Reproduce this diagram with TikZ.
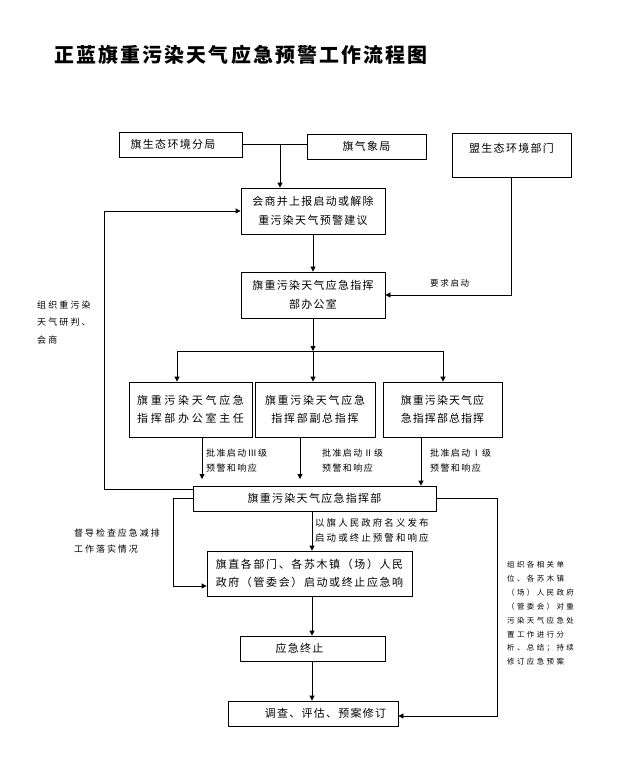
\documentclass[tikz,border=0pt]{standalone}
\usepackage{fontspec}
\setmainfont{Noto Sans CJK SC}
\usetikzlibrary{arrows.meta}
\newcommand\lsp[1]{\addfontfeature{LetterSpace=#1}}
\tikzset{
  box/.style={draw, line width=0.8bp, inner sep=0pt, align=center,
    font={\fontsize{11}{18.5}\selectfont\lsp{12}}},
  lab/.style={inner sep=0pt, align=left, anchor=west,
    font={\fontsize{9}{15}\selectfont\lsp{16}}},
  arr/.style={-{Triangle[length=5bp,width=5bp]}, line width=0.8bp},
  ln/.style={line width=0.8bp}
}
\begin{document}
\begin{tikzpicture}[x=1bp,y=-1bp]
\useasboundingbox (0,0) rectangle (618,767);
% title
\node[font={\bfseries\fontsize{20}{20}\selectfont\lsp{11}}] (T) at (241,55) {正蓝旗重污染天气应急预警工作流程图};
% boxes
\node[box, minimum width=123bp, minimum height=25bp] (A) at (180.5,144.5) {旗生态环境分局\hspace*{15bp}};
\node[box, minimum width=119bp, minimum height=25bp] (B) at (366.5,146.5) {旗气象局};
\node[box, minimum width=119bp, text height=9bp, text depth=15bp, inner ysep=10bp] (C) at (511.5,155) {盟生态环境部门};
\node[box, minimum width=144bp, minimum height=46bp] (D) at (313,211) {会商并上报启动或解除\\重污染天气预警建议};
\node[box, minimum width=144bp, minimum height=46bp] (E) at (313,295) {旗重污染天气应急指挥\\部办公室};
\node[box, minimum width=123bp, minimum height=55bp, font={\fontsize{11}{18.5}\selectfont\lsp{25}}] (F1) at (190.5,409.5) {旗重污染天气应急\\指挥部办公室主任};
\node[box, minimum width=120bp, minimum height=55bp, font={\fontsize{11}{18.5}\selectfont\lsp{16}}] (F2) at (315,409.5) {旗重污染天气应急\\指挥部副总指挥};
\node[box, minimum width=119bp, minimum height=55bp, font={\fontsize{11}{18.5}\selectfont\lsp{10}}] (F3) at (442.5,409.5) {旗重污染天气应\\急指挥部总指挥};
\node[box, minimum width=243bp, minimum height=25bp] (G) at (314.5,498.5) {旗重污染天气应急指挥部};
\node[box, minimum width=205bp, minimum height=45bp, font={\fontsize{11}{18.5}\selectfont\lsp{15}}] (H) at (309.5,573.5) {旗直各部门、各苏木镇（场）人民\\政府（管委会）启动或终止应急响};
\node[box, minimum width=145bp, minimum height=25bp] (I) at (312.5,648.5) {应急终止\hspace*{26bp}};
\node[box, minimum width=170bp, minimum height=25bp] (J) at (313,713.5) {\hspace*{25bp}调查、评估、预案修订};
% labels
\node[lab, font={\fontsize{8.5}{15}\selectfont\lsp{20}}] (req) at (430,283) {要求启动};
\node[lab, font={\fontsize{9}{17.5}\selectfont\lsp{24}}] (Lleft) at (37,322.5) {组织重污染\\天气研判、\\会商};
\node[lab] (L3) at (206,460.5) {批准启动Ⅲ级\\预警和响应};
\node[lab] (L2) at (322,460.5) {批准启动Ⅱ级\\预警和响应};
\node[lab] (L1) at (430,460.5) {批准启动Ⅰ级\\预警和响应};
\node[lab, font={\fontsize{9.5}{15}\selectfont\lsp{22}}] (Lpub) at (315,530.5) {以旗人民政府名义发布\\启动或终止预警和响应};
\node[lab, font={\fontsize{9}{16}\selectfont\lsp{22}}] (Lsup) at (74,541) {督导检查应急减排\\工作落实情况};
\node[lab, font={\fontsize{7.5}{13.9}\selectfont\lsp{32}}] (Lright) at (507,613.5) {组织各相关单\\位、各苏木镇\\（场）人民政府\\（管委会）对重\\污染天气应急处\\置工作进行分\\析、总结；持续\\修订应急预案};
% connectors
\coordinate (m) at (280,144.5);
\draw[ln] (A.east) -- (A.east -| B.west);
\draw[arr] (m) -- (m |- D.north);
\draw[arr] (C.south) |- (E.east);
\draw[arr] (D) -- (E);
\coordinate (bar) at (313,351);
\coordinate (bl) at (177,351);
\coordinate (br) at (443,351);
\draw[arr] (E.south) -- (bar);
\draw[ln] (bl) -- (br);
\draw[arr] (bl) -- (bl |- F1.north);
\draw[arr] (bar) -- (bar |- F2.north);
\draw[arr] (br) -- (br |- F3.north);
\coordinate (f1e) at (202,479);
\coordinate (f2e) at (300,479);
\coordinate (f3) at (421,437);
\draw[arr] (f1e |- F1.south) -- (f1e);
\draw[arr] (f2e |- F2.south) -- (f2e);
\draw[arr] (f3) -- (f3 |- G.north);
\coordinate (lp) at (104,489);
\draw[arr] (lp -| G.west) -- (lp) |- (D.west);
\coordinate (rp) at (173,586);
\draw[arr] (G.west) -| (rp) -- (rp -| H.west);
\coordinate (gh) at (312,511);
\draw[arr] (gh) -- (gh |- H.north);
\draw[arr] (gh |- H.south) -- (gh |- I.north);
\draw[arr] (gh |- I.south) -- (gh |- J.north);
\coordinate (rr) at (497,716);
\draw[arr] (G.east) -| (rr) -- (rr -| J.east);
\end{tikzpicture}
\end{document}
